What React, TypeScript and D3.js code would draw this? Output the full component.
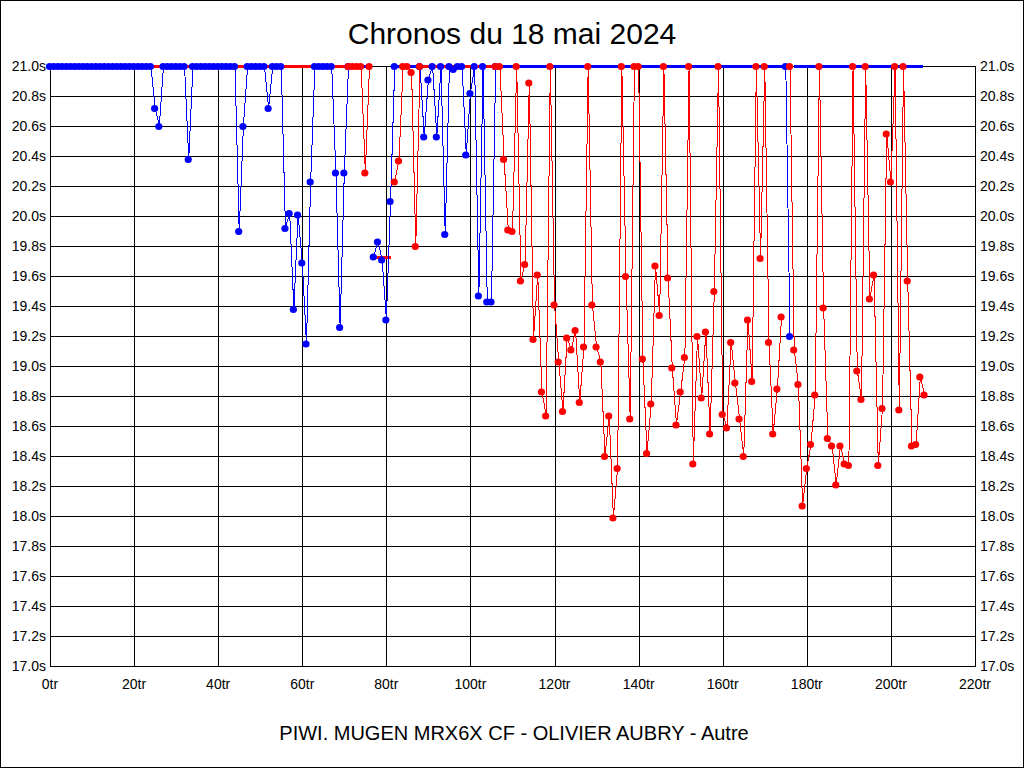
import React from "react";
import * as d3 from "d3";

const TITLE = "Chronos du 18 mai 2024";
const FOOTER = "PIWI. MUGEN MRX6X CF - OLIVIER AUBRY - Autre";

const xTicks = [0, 20, 40, 60, 80, 100, 120, 140, 160, 180, 200, 220];
const yTicks = [17.0, 17.2, 17.4, 17.6, 17.8, 18.0, 18.2, 18.4, 18.6, 18.8, 19.0, 19.2, 19.4, 19.6, 19.8, 20.0, 20.2, 20.4, 20.6, 20.8, 21.0];

// Lap times (s), capped at 21.0 ; each run starts at the given lap number
const blueRuns = [
  {
    start: 0,
    times: [
      21, 21, 21, 21, 21, 21, 21, 21, 21, 21, 21, 21, 21, 21, 21, 21, 21, 21, 21, 21, 21, 21, 21, 21, 21,
      20.72, 20.6,
      21, 21, 21, 21, 21, 21,
      20.38,
      21, 21, 21, 21, 21, 21, 21, 21, 21, 21, 21,
      19.9, 20.6,
      21, 21, 21, 21, 21,
      20.72,
      21, 21, 21,
      19.92, 20.02, 19.38, 20.01, 19.69, 19.15, 20.23,
      21, 21, 21, 21, 21,
      20.29, 19.26, 20.29,
      21,
    ],
  },
  { start: 77, times: [19.73, 19.83, 19.71, 19.31, 20.1, 21] },
  {
    start: 88,
    times: [21, 20.53, 20.91, 21, 20.53, 21, 19.88, 21, 20.98, 21, 21, 20.41, 20.82, 21, 19.47, 21, 19.43, 19.43, 21],
  },
  { start: 175, times: [21, 19.2] },
];

const redRuns = [
  { start: 71, times: [21, 21, 21, 21, 20.29, 21] },
  { start: 82, times: [20.23, 20.37, 21, 21, 20.96, 19.8, 21] },
  {
    start: 106,
    times: [
      21, 21, 20.38, 19.91, 19.9, 21, 19.57, 19.68, 20.89, 19.18, 19.61, 18.83, 18.67, 21,
      19.41, 19.03, 18.7, 19.19, 19.11, 19.24, 18.76, 19.13, 21,
      19.41, 19.13, 19.03, 18.4, 18.67, 17.99, 18.32, 21,
      19.6, 18.65, 21, 21,
      19.05, 18.42, 18.75, 19.67, 19.34, 21,
      19.59, 18.99, 18.61, 18.83, 19.06, 21,
      18.35, 19.2, 18.79, 19.23, 18.55, 19.5, 21,
      18.68, 18.59, 19.16, 18.89, 18.65, 18.4, 19.31, 18.9, 21,
      19.72, 21,
      19.16, 18.55, 18.85, 19.33,
    ],
  },
  {
    start: 176,
    times: [
      21, 19.11, 18.88, 18.07, 18.32, 18.48, 18.81, 21,
      19.39, 18.52, 18.47, 18.21, 18.47, 18.35, 18.34, 21,
      18.97, 18.78, 21,
      19.45, 19.61, 18.34, 18.72, 20.55, 20.23, 21,
      18.71, 21,
      19.57, 18.47, 18.48, 18.93, 18.81,
    ],
  },
];

// Idle spans (from lap, to lap, level) drawn as a thick line without markers
const blueIdle: [number, number, number][] = [
  [71, 76, 21],
  [82, 88, 21],
  [106, 175, 21],
  [177, 207.6, 21],
];
const redIdle: [number, number, number][] = [
  [0, 71, 21],
  [77, 81, 19.73],
  [88, 106, 21],
];

const BLUE = "#0000ff";
const RED = "#ff0000";
const FONT = "'Liberation Sans', Arial, sans-serif";

export default function App() {
  const W = 1024;
  const H = 768;
  const x = d3.scaleLinear().domain([0, 220]).range([50, 975]);
  const y = d3.scaleLinear().domain([17, 21]).range([666, 66]);

  const toPts = (runs: { start: number; times: number[] }[]) =>
    runs.map((r) => r.times.map((t, i) => [r.start + i, t] as [number, number]));

  const line = d3
    .line<[number, number]>()
    .x((d) => x(d[0]))
    .y((d) => y(d[1]));

  const bluePts = toPts(blueRuns);
  const redPts = toPts(redRuns);

  const crisp = (v: number) => Math.round(v) + 0.5;

  return (
    <div style={{ position: "fixed", left: 0, top: 0 }}>
      <svg width={W} height={H} style={{ display: "block", background: "#fff" }}>
        <rect x={0.5} y={0.5} width={W - 1} height={H - 1} fill="#fff" stroke="#000" />
        <text x={512} y={44} textAnchor="middle" fontFamily={FONT} fontSize={30} fill="#000">
          {TITLE}
        </text>
        {/* grid */}
        <g stroke="#000" strokeWidth={1} shapeRendering="crispEdges">
          {xTicks.map((t) => (
            <line key={"vx" + t} x1={crisp(x(t))} x2={crisp(x(t))} y1={y(21)} y2={y(17) + 1} />
          ))}
          {yTicks.map((t) => (
            <line key={"hy" + t} x1={x(0)} x2={x(220) + 1} y1={crisp(y(t))} y2={crisp(y(t))} />
          ))}
        </g>
        {/* axis labels */}
        <g fontFamily={FONT} fontSize={14} fill="#000">
          {yTicks.map((t) => (
            <text key={"yl" + t} x={46} y={y(t) + 5} textAnchor="end">
              {t.toFixed(1) + "s"}
            </text>
          ))}
          {yTicks.map((t) => (
            <text key={"yr" + t} x={980} y={y(t) + 5} textAnchor="start">
              {t.toFixed(1) + "s"}
            </text>
          ))}
          {xTicks.map((t) => (
            <text key={"xl" + t} x={x(t)} y={689} textAnchor="middle">
              {t + "tr"}
            </text>
          ))}
        </g>
        {/* idle thick lines */}
        <g strokeWidth={3} shapeRendering="crispEdges">
          {blueIdle.map((s, i) => (
            <line key={"bi" + i} x1={x(s[0])} x2={x(s[1])} y1={y(s[2]) + 0.5} y2={y(s[2]) + 0.5} stroke={BLUE} />
          ))}
          {redIdle.map((s, i) => (
            <line key={"ri" + i} x1={x(s[0])} x2={x(s[1])} y1={y(s[2]) + 0.5} y2={y(s[2]) + 0.5} stroke={RED} />
          ))}
        </g>
        {/* lap lines */}
        <g fill="none" strokeWidth={1} shapeRendering="crispEdges">
          {bluePts.map((p, i) => (
            <path key={"bl" + i} d={line(p) || ""} stroke={BLUE} />
          ))}
          {redPts.map((p, i) => (
            <path key={"rl" + i} d={line(p) || ""} stroke={RED} />
          ))}
        </g>
        {/* markers */}
        <g>
          {bluePts.flat().map((d, i) => (
            <circle key={"bm" + i} cx={x(d[0]) - 0.5} cy={y(d[1]) + 0.5} r={3.6} fill={BLUE} />
          ))}
          {redPts.flat().map((d, i) => (
            <circle key={"rm" + i} cx={x(d[0]) - 0.5} cy={y(d[1]) + 0.5} r={3.6} fill={RED} />
          ))}
        </g>
        <text x={514} y={740} textAnchor="middle" fontFamily={FONT} fontSize={20} fill="#000">
          {FOOTER}
        </text>
      </svg>
    </div>
  );
}
